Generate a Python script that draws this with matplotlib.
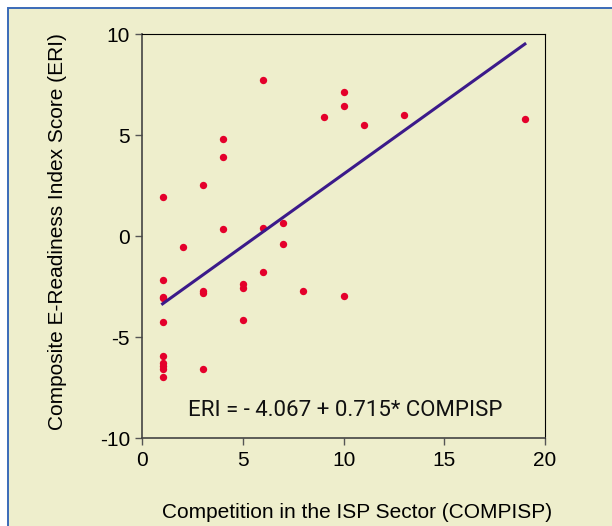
import matplotlib

matplotlib.use("Agg")
import matplotlib.pyplot as plt  # noqa: E402
from matplotlib.patches import Rectangle  # noqa: E402

# COMPISP (x) vs ERI (y)
compisp = [1, 1, 1, 1, 1, 1, 1, 1, 1, 1,
           2, 3, 3, 3, 3, 4, 4, 4,
           5, 5, 5, 6, 6, 6, 7, 7, 8,
           9, 10, 10, 10, 11, 13, 19]
eri = [1.95, -2.15, -3.05, -4.25, -5.95, -6.3, -6.45, -6.6, -7.0, -3.0,
       -0.55, 2.55, -2.7, -2.8, -6.6, 4.8, 3.9, 0.35,
       -2.35, -2.55, -4.15, 7.75, 0.4, -1.8, 0.65, -0.4, -2.7,
       5.9, 7.15, 6.45, -2.95, 5.5, 6.0, 5.8]

# fitted regression from the chart annotation
intercept = -4.067
slope = 0.715

BG = "#eeeecc"
DOT = "#e4002b"
LINE = "#3b1a8a"
BORDER = "#3a6ab8"
FONT = ["Liberation Sans Narrow", "Liberation Sans", "DejaVu Sans"]

plt.rcParams["axes.unicode_minus"] = False

fig = plt.figure(figsize=(6.12, 5.26), dpi=100)
fig.patch.set_facecolor("white")
# cream panel with blue frame on top/left edges
panel = Rectangle((8 / 612, -0.01), 1.0, 1 - 8 / 526 + 0.01,
                  transform=fig.transFigure, facecolor=BG,
                  edgecolor=BORDER, linewidth=1.4, zorder=-1)
fig.patches.append(panel)

ax = fig.add_axes([0.2328, 0.1673, 0.8905 - 0.2328, 0.9348 - 0.1673])
ax.set_zorder(1)
ax.set_facecolor(BG)

ax.scatter(compisp, eri, s=28, color=DOT, zorder=3, linewidths=0)
x0, x1 = min(compisp), max(compisp)
ax.plot([x0, x1], [intercept + slope * x0, intercept + slope * x1],
        color=LINE, linewidth=2.2, zorder=4)

ax.set_xlim(0, 20)
ax.set_ylim(-10, 10)
ax.set_xticks([0, 5, 10, 15, 20])
ax.set_yticks([-10, -5, 0, 5, 10])
ax.tick_params(direction="out", length=5, width=1, color="#555555",
               labelsize=15, pad=4)
for lab in ax.get_xticklabels() + ax.get_yticklabels():
    lab.set_family(FONT)
for side in ["top", "right"]:
    ax.spines[side].set_color("black")
for side in ["left", "bottom"]:
    ax.spines[side].set_color("#444444")
    ax.spines[side].set_linewidth(1.2)

ax.text(10.1, -8.65, "ERI = - 4.067 + 0.715* COMPISP", ha="center", va="center",
        fontsize=16, family=["Roboto", "DejaVu Sans"], color="#111111")

fig.text(58 / 612, 1 - 232 / 526, "Composite E-Readiness Index Score (ERI)",
         rotation=90, ha="center", va="center", fontsize=15, family=FONT)
fig.text(357 / 612, 1 - 512 / 526, "Competition in the ISP Sector (COMPISP)",
         ha="center", va="center", fontsize=15, family=FONT)

fig.savefig("out.png", dpi=100, facecolor=fig.get_facecolor())
